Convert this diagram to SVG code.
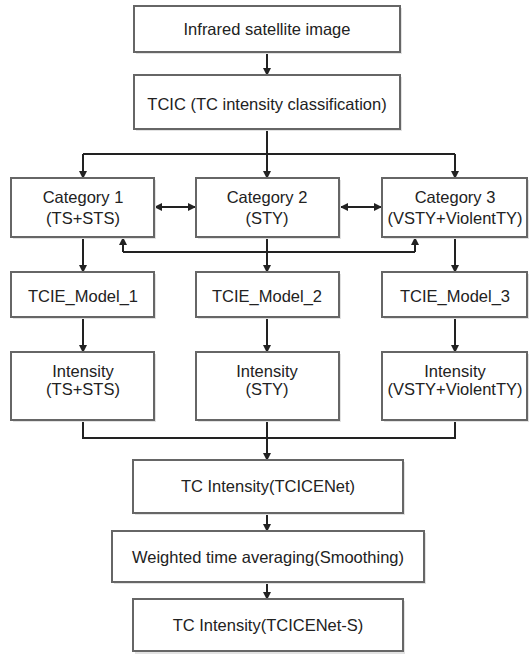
<svg xmlns="http://www.w3.org/2000/svg" width="532" height="654" viewBox="0 0 532 654">
<style>
.box{fill:#fff;stroke:#666;stroke-width:2}
.sh{fill:#e2e2e2}
.t{font-family:"Liberation Sans",Arial,sans-serif;font-size:16.5px;fill:#222;text-anchor:middle}
.c{fill:none;stroke:#222;stroke-width:2}
</style>
<defs>
<marker id="ah" markerWidth="8" markerHeight="8" refX="7" refY="4" orient="auto-start-reverse" markerUnits="userSpaceOnUse">
<path d="M0,0 L8,4 L0,8 Z" fill="#222"/>
</marker>
</defs>
<g id="connectors">
<path class="c" d="M267,52 V75" marker-end="url(#ah)"/>
<path class="c" d="M267,129 V154"/>
<path class="c" d="M83,154 H455"/>
<path class="c" d="M83,154 V178" marker-end="url(#ah)"/>
<path class="c" d="M267,154 V178" marker-end="url(#ah)"/>
<path class="c" d="M455,154 V178" marker-end="url(#ah)"/>
<path class="c" d="M155,207 H195" marker-start="url(#ah)" marker-end="url(#ah)"/>
<path class="c" d="M341,207 H381" marker-start="url(#ah)" marker-end="url(#ah)"/>
<path class="c" d="M123,252 H415"/>
<path class="c" d="M123,252 V238" marker-end="url(#ah)"/>
<path class="c" d="M415,252 V238" marker-end="url(#ah)"/>
<path class="c" d="M267,237 V272" marker-end="url(#ah)"/>
<path class="c" d="M83,237 V272" marker-end="url(#ah)"/>
<path class="c" d="M455,237 V272" marker-end="url(#ah)"/>
<path class="c" d="M83,317 V352" marker-end="url(#ah)"/>
<path class="c" d="M267,317 V352" marker-end="url(#ah)"/>
<path class="c" d="M455,317 V352" marker-end="url(#ah)"/>
<path class="c" d="M83,420 V438 H455 V420"/>
<path class="c" d="M267,420 V460" marker-end="url(#ah)"/>
<path class="c" d="M267,513 V531" marker-end="url(#ah)"/>
<path class="c" d="M267,582 V599" marker-end="url(#ah)"/>
</g>
<g id="n1"><rect class="sh" x="136" y="8" width="266" height="46"/><rect class="box" x="134" y="6" width="266" height="46"/><text class="t" x="267" y="35">Infrared satellite image</text></g>
<g id="n2"><rect class="sh" x="136" y="77" width="266" height="54"/><rect class="box" x="134" y="75" width="266" height="54"/><text class="t" x="267" y="110">TCIC (TC intensity classification)</text></g>
<g id="cat1"><rect class="sh" x="13" y="180" width="143" height="59"/><rect class="box" x="11" y="178" width="143" height="59"/><text class="t" x="83" y="203">Category 1</text><text class="t" x="83" y="224">(TS+STS)</text></g>
<g id="cat2"><rect class="sh" x="198" y="180" width="143" height="59"/><rect class="box" x="196" y="178" width="143" height="59"/><text class="t" x="267" y="203">Category 2</text><text class="t" x="267" y="224">(STY)</text></g>
<g id="cat3"><rect class="sh" x="384" y="180" width="145" height="59"/><rect class="box" x="382" y="178" width="145" height="59"/><text class="t" x="455" y="203">Category 3</text><text class="t" x="455" y="224">(VSTY+ViolentTY)</text></g>
<g id="m1"><rect class="sh" x="13" y="274" width="143" height="45"/><rect class="box" x="11" y="272" width="143" height="45"/><text class="t" x="83" y="302">TCIE_Model_1</text></g>
<g id="m2"><rect class="sh" x="198" y="274" width="143" height="45"/><rect class="box" x="196" y="272" width="143" height="45"/><text class="t" x="267" y="302">TCIE_Model_2</text></g>
<g id="m3"><rect class="sh" x="384" y="274" width="145" height="45"/><rect class="box" x="382" y="272" width="145" height="45"/><text class="t" x="455" y="302">TCIE_Model_3</text></g>
<g id="i1"><rect class="sh" x="13" y="354" width="143" height="68"/><rect class="box" x="11" y="352" width="143" height="68"/><text class="t" x="83" y="377">Intensity</text><text class="t" x="83" y="395">(TS+STS)</text></g>
<g id="i2"><rect class="sh" x="198" y="354" width="143" height="68"/><rect class="box" x="196" y="352" width="143" height="68"/><text class="t" x="267" y="377">Intensity</text><text class="t" x="267" y="395">(STY)</text></g>
<g id="i3"><rect class="sh" x="384" y="354" width="145" height="68"/><rect class="box" x="382" y="352" width="145" height="68"/><text class="t" x="455" y="377">Intensity</text><text class="t" x="455" y="395">(VSTY+ViolentTY)</text></g>
<g id="n3"><rect class="sh" x="135" y="462" width="270" height="53"/><rect class="box" x="133" y="460" width="270" height="53"/><text class="t" x="268" y="492">TC Intensity(TCICENet)</text></g>
<g id="n4"><rect class="sh" x="114" y="533" width="312" height="51"/><rect class="box" x="112" y="531" width="312" height="51"/><text class="t" x="268" y="563">Weighted time averaging(Smoothing)</text></g>
<g id="n5"><rect class="sh" x="135" y="601" width="270" height="53"/><rect class="box" x="133" y="599" width="270" height="52"/><text class="t" x="268" y="631">TC Intensity(TCICENet-S)</text></g>
</svg>
